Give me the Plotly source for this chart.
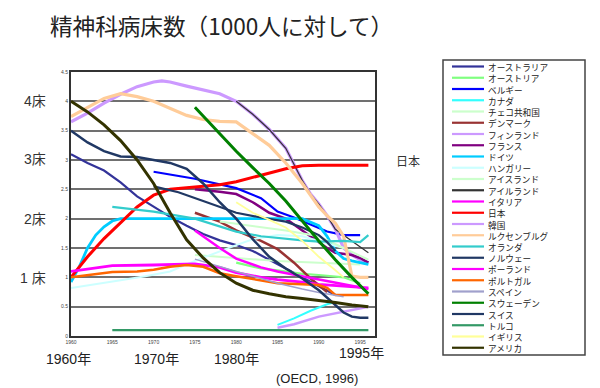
import plotly.graph_objects as go

# ---------------- data ----------------
tick_years = [1960, 1965, 1970, 1975, 1980, 1985, 1990, 1995]
tick_year_labels = ["1960", "1965", "1970", "1975", "1980", "1985", "1990", "1995"]
y_tick_vals = [0, 0.5, 1, 1.5, 2, 2.5, 3, 3.5, 4, 4.5]
y_tick_labels = ["0", "0.5", "1", "1.5", "2", "2.5", "3", "3.5", "4", "4.5"]

aus_years = [1960, 1962, 1964, 1966, 1968, 1970, 1972, 1974, 1976, 1978, 1980, 1982, 1984, 1986, 1988, 1990, 1992]
aus_vals = [3.1, 2.95, 2.82, 2.62, 2.38, 2.2, 2.03, 1.88, 1.74, 1.63, 1.55, 1.45, 1.3, 1.15, 1.0, 0.85, 0.7]

aut_years = [1980, 1983, 1985, 1988, 1990, 1993, 1995]
aut_vals = [1.25, 1.15, 1.12, 1.06, 1.04, 1.0, 0.9]

bel_years = [1970, 1975, 1980, 1983, 1985, 1987, 1989, 1991, 1993, 1995]
bel_vals = [2.8, 2.68, 2.52, 2.35, 2.12, 2.02, 1.9, 1.78, 1.72, 1.72]

can_years = [1985, 1987, 1989, 1991, 1992]
can_vals = [0.19, 0.3, 0.43, 0.54, 0.58]

cze_years = [1975, 1980, 1985, 1990, 1995]
cze_vals = [1.38, 1.33, 1.28, 1.25, 1.22]

dnk_years = [1975, 1978, 1980, 1983, 1985, 1987, 1989, 1991]
dnk_vals = [2.1, 1.95, 1.8, 1.62, 1.48, 1.25, 0.98, 0.75]

fin_years = [1960, 1962, 1964, 1966, 1968, 1970, 1971, 1972, 1974, 1976, 1978, 1980, 1982, 1984, 1986, 1988, 1989, 1990, 1991, 1992, 1993, 1994, 1995, 1996]
fin_vals = [3.65, 3.8, 3.97, 4.12, 4.25, 4.33, 4.35, 4.33, 4.26, 4.2, 4.13, 4.0, 3.78, 3.52, 3.2, 2.65, 2.42, 2.25, 2.05, 1.82, 1.5, 1.38, 1.3, 1.25]

fra_years = [1975, 1978, 1980, 1982, 1984, 1986, 1988, 1990, 1991, 1992, 1994, 1995, 1996]
fra_vals = [2.5, 2.46, 2.42, 2.28, 2.1, 2.0, 1.8, 1.6, 1.5, 1.42, 1.38, 1.33, 1.25]

deu_years = [1960, 1961, 1962, 1963, 1964, 1965, 1966, 1970, 1975, 1980, 1985, 1988, 1990, 1991, 1992, 1993, 1994, 1996]
deu_vals = [0.92, 1.18, 1.5, 1.72, 1.86, 1.96, 2.0, 2.0, 2.0, 2.0, 2.0, 2.0, 1.88, 1.7, 1.45, 1.32, 1.28, 1.22]

hun_years = [1960, 1963, 1966, 1969, 1972, 1975, 1978, 1980, 1982, 1985, 1988, 1990, 1993]
hun_vals = [0.82, 0.88, 0.95, 1.02, 1.1, 1.28, 1.45, 1.55, 1.65, 1.72, 1.7, 1.62, 1.5]

isl_years = [1978, 1982, 1986, 1990, 1993, 1996]
isl_vals = [1.95, 1.88, 1.8, 1.7, 1.5, 1.3]

irl_years = [1980, 1982, 1984, 1986, 1988, 1989, 1990, 1991, 1992, 1993, 1994, 1995, 1996]
irl_vals = [4.0, 3.78, 3.52, 3.2, 2.65, 2.42, 2.25, 2.05, 1.82, 1.72, 1.62, 1.52, 1.42]

ita_years = [1975, 1976, 1978, 1980, 1983, 1985, 1988, 1990, 1993, 1996]
ita_vals = [1.8, 1.7, 1.5, 1.32, 1.17, 1.1, 1.02, 0.97, 0.88, 0.8]

jpn_years = [1960, 1962, 1964, 1966, 1968, 1970, 1972, 1975, 1978, 1980, 1982, 1984, 1986, 1988, 1990, 1993, 1996]
jpn_vals = [1.0, 1.35, 1.66, 1.93, 2.2, 2.4, 2.5, 2.54, 2.58, 2.63, 2.7, 2.78, 2.85, 2.9, 2.91, 2.91, 2.91]

kor_years = [1985, 1987, 1990, 1993, 1996]
kor_vals = [0.14, 0.2, 0.33, 0.41, 0.5]

lux_years = [1960, 1962, 1964, 1966, 1968, 1970, 1972, 1974, 1976, 1978, 1980, 1982, 1984, 1986, 1988, 1990, 1991, 1992, 1993, 1994, 1995, 1996]
lux_vals = [3.74, 3.9, 4.05, 4.13, 4.08, 4.0, 3.88, 3.76, 3.69, 3.66, 3.65, 3.45, 3.25, 2.95, 2.6, 2.2, 2.05, 1.92, 1.7, 1.02, 1.0, 1.0]

nld_years = [1965, 1970, 1975, 1978, 1980, 1983, 1985, 1988, 1990, 1993, 1995, 1996]
nld_vals = [2.2, 2.12, 2.0, 1.87, 1.78, 1.7, 1.67, 1.63, 1.61, 1.62, 1.6, 1.72]

nor_years = [1970, 1973, 1976, 1978, 1980, 1983, 1986, 1988, 1990, 1991, 1992]
nor_vals = [2.55, 2.45, 2.3, 2.2, 2.1, 2.02, 1.95, 1.85, 1.72, 1.6, 1.45]

pol_years = [1960, 1965, 1970, 1975, 1978, 1980, 1983, 1985, 1988, 1990, 1993, 1996]
pol_vals = [1.1, 1.2, 1.21, 1.23, 1.17, 1.08, 1.0, 0.96, 0.92, 0.88, 0.85, 0.82]

prt_years = [1960, 1965, 1968, 1970, 1972, 1974, 1976, 1978, 1980, 1983, 1985, 1988, 1990, 1991, 1992, 1996]
prt_vals = [1.0, 1.09, 1.1, 1.13, 1.18, 1.21, 1.18, 1.07, 1.02, 0.95, 0.9, 0.88, 0.87, 0.82, 0.7, 0.7]

esp_years = [1975, 1978, 1980, 1983, 1985, 1988, 1990, 1993]
esp_vals = [1.31, 1.18, 1.1, 0.98, 0.9, 0.8, 0.74, 0.67]

swe_years = [1975, 1978, 1980, 1982, 1984, 1986, 1988, 1990, 1992, 1994, 1996]
swe_vals = [3.9, 3.45, 3.15, 2.87, 2.6, 2.3, 1.95, 1.62, 1.3, 1.0, 0.72]

che_years = [1960, 1962, 1964, 1966, 1968, 1970, 1972, 1974, 1976, 1978, 1980, 1982, 1984, 1986, 1988, 1990, 1992, 1993, 1994, 1995, 1996]
che_vals = [3.5, 3.3, 3.15, 3.06, 3.05, 3.0, 2.95, 2.85, 2.6, 2.28, 2.0, 1.65, 1.35, 1.15, 0.98, 0.78, 0.52, 0.4, 0.33, 0.31, 0.31]

tur_years = [1965, 1970, 1975, 1980, 1985, 1990, 1996]
tur_vals = [0.1, 0.1, 0.1, 0.1, 0.1, 0.1, 0.1]

gbr_years = [1980, 1982, 1984, 1986, 1988, 1990, 1992, 1993]
gbr_vals = [2.28, 2.1, 1.98, 1.85, 1.62, 1.35, 1.12, 1.0]

usa_years = [1960, 1962, 1964, 1966, 1968, 1970, 1972, 1974, 1976, 1978, 1980, 1982, 1984, 1986, 1988, 1990, 1992, 1994, 1996]
usa_vals = [4.0, 3.82, 3.6, 3.33, 3.0, 2.6, 2.1, 1.64, 1.33, 1.08, 0.9, 0.78, 0.72, 0.67, 0.64, 0.61, 0.57, 0.53, 0.5]

country_names = ["オーストラリア", "オーストリア", "ベルギー", "カナダ", "チェコ共和国", "デンマーク",
                 "フィンランド", "フランス", "ドイツ", "ハンガリー", "アイスランド", "アイルランド",
                 "イタリア", "日本", "韓国", "ルクセンブルグ", "オランダ", "ノルウェー", "ポーランド",
                 "ポルトガル", "スペイン", "スウェーデン", "スイス", "トルコ", "イギリス", "アメリカ"]

# ---------------- styles ----------------
colors = ["#333399", "#80FF80", "#0000FF", "#33FFFF", "#CCFFCC", "#993333",
          "#CC99FF", "#800080", "#00CCFF", "#CCFFFF", "#CCFFCC", "#333333",
          "#FF00FF", "#FF0000", "#CC99FF", "#FFCC99", "#33CCCC", "#203864", "#FF00FF",
          "#FF6600", "#A0A0CC", "#008000", "#203864", "#339966", "#FFFF99", "#333300"]
widths = [2.2, 2.2, 2.2, 2.0, 2.0, 2.5,
          3.2, 2.5, 2.8, 2.0, 2.0, 1.2,
          2.5, 3.0, 2.5, 3.2, 2.2, 2.2, 2.8,
          2.5, 1.5, 3.0, 2.5, 2.2, 1.8, 3.0]

series_x = [aus_years, aut_years, bel_years, can_years, cze_years, dnk_years,
            fin_years, fra_years, deu_years, hun_years, isl_years, irl_years,
            ita_years, jpn_years, kor_years, lux_years, nld_years, nor_years, pol_years,
            prt_years, esp_years, swe_years, che_years, tur_years, gbr_years, usa_years]
series_y = [aus_vals, aut_vals, bel_vals, can_vals, cze_vals, dnk_vals,
            fin_vals, fra_vals, deu_vals, hun_vals, isl_vals, irl_vals,
            ita_vals, jpn_vals, kor_vals, lux_vals, nld_vals, nor_vals, pol_vals,
            prt_vals, esp_vals, swe_vals, che_vals, tur_vals, gbr_vals, usa_vals]

fig = go.Figure()
for name, xs, ys, c, w in zip(country_names, series_x, series_y, colors, widths):
    fig.add_trace(go.Scatter(x=xs, y=ys, mode="lines", name=name,
                             line=dict(color=c, width=w), showlegend=False))

# plot area in pixels
X0, X1, Y0, Y1 = 71, 375, 72, 336


def px(xp):
    return (xp - X0) / (X1 - X0)


def py(yp):
    return (Y1 - yp) / (Y1 - Y0)


JP = "Noto Sans CJK JP, sans-serif"
AR = "Liberation Sans, Noto Sans CJK JP, sans-serif"

shapes = []
annotations = []

# legend box (drawn manually)
shapes.append(dict(type="rect", xref="paper", yref="paper",
                   x0=px(443), x1=px(585), y0=py(60), y1=py(355),
                   line=dict(color="#444444", width=1.5), fillcolor="rgba(0,0,0,0)"))
row0, step = 66.5, 11.25
for i, c in enumerate(colors):
    yy = row0 + i * step
    shapes.append(dict(type="line", xref="paper", yref="paper",
                       x0=px(452), x1=px(484), y0=py(yy), y1=py(yy),
                       line=dict(color=c, width=2.2)))
legend_mid = row0 + (len(country_names) - 1) * step / 2
annotations.append(dict(text="<br>".join(country_names), xref="paper", yref="paper",
                        x=px(487), y=py(legend_mid), xanchor="left", yanchor="middle",
                        align="left", showarrow=False, borderpad=0,
                        font=dict(family=JP, size=step / 1.3, color="#222222")))

# title
annotations.append(dict(text="精神科病床数（1000人に対して）", xref="paper", yref="paper",
                        x=px(48), y=py(25), xanchor="left", yanchor="middle", showarrow=False,
                        font=dict(family=JP, size=22.6, color="#222222")))

# left big labels
for lab, yy in [("4床", 101), ("3床", 159), ("2床", 219), ("1 床", 278)]:
    annotations.append(dict(text=lab, xref="paper", yref="paper", x=px(48), y=py(yy),
                            xanchor="right", yanchor="middle", showarrow=False,
                            font=dict(family=AR, size=14, color="#333333")))

annotations.append(dict(text="日本", xref="paper", yref="paper", x=px(408), y=py(160),
                        xanchor="center", yanchor="middle", showarrow=False,
                        font=dict(family=JP, size=12, color="#333333")))

for lab, xx, yy, fs in [("1960年", 68, 359, 14), ("1970年", 156, 359, 14), ("1980年", 236, 359, 14),
                        ("1995年", 361, 353, 14), ("(OECD, 1996)", 317, 378, 13)]:
    annotations.append(dict(text=lab, xref="paper", yref="paper", x=px(xx), y=py(yy),
                            xanchor="center", yanchor="middle", showarrow=False, borderpad=0,
                            font=dict(family=AR, size=fs, color="#222222")))

fig.update_layout(
    width=600, height=388,
    margin=dict(l=X0, r=600 - X1, t=Y0, b=388 - Y1),
    paper_bgcolor="white", plot_bgcolor="white",
    shapes=shapes, annotations=annotations,
    showlegend=False,
    xaxis=dict(range=[1960, 1996.8], tickvals=tick_years, ticktext=tick_year_labels,
               showgrid=False, zeroline=False, showline=True, linecolor="#333333",
               linewidth=2, mirror=True, ticks="",
               tickfont=dict(family=AR, size=5, color="#444444")),
    yaxis=dict(range=[0, 4.5], tickvals=y_tick_vals, ticktext=y_tick_labels,
               showgrid=True, gridcolor="#707070", gridwidth=1.5, zeroline=False,
               showline=True, linecolor="#333333", linewidth=2, mirror=True, ticks="",
               tickfont=dict(family=AR, size=5, color="#444444")),
)

fig.write_html("out.html", config={"displayModeBar": False},
               post_script="document.body.style.margin='0px';")
